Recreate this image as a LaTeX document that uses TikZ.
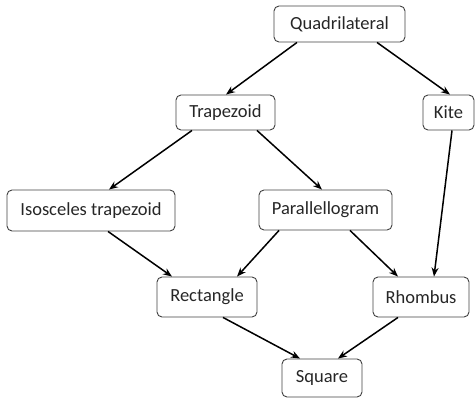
\documentclass[tikz,border=0pt]{standalone}
\usepackage{fontspec}
\setmainfont{Carlito}
\usetikzlibrary{arrows.meta}
\begin{document}
\begin{tikzpicture}[x=1pt,y=-1pt,
  shape box/.style={draw=black!75,line width=0.9pt,rounded corners=5pt,
    inner sep=0pt,align=center,text=black!85,
    font=\fontsize{18.5}{22}\selectfont},
  arr/.style={line width=1.5pt,-{Stealth[length=9pt,width=7pt]}}]
\useasboundingbox (0,0) rectangle (475,398);
% category boxes
\node[shape box,minimum width=131pt,minimum height=36pt] (q)  at (339.5,24)   {Quadrilateral};
\node[shape box,minimum width=51pt,minimum height=35pt]  (k)  at (448.5,112.5) {Kite};
\node[shape box,minimum width=99pt,minimum height=35pt]  (t)  at (225.5,112.5) {Trapezoid};
\node[shape box,minimum width=168pt,minimum height=41pt] (it) at (91,210.5)    {Isosceles trapezoid};
\node[shape box,minimum width=133pt,minimum height=40pt] (p)  at (325.5,210)   {Parallellogram};
\node[shape box,minimum width=100pt,minimum height=40pt] (r)  at (207,297)     {Rectangle};
\node[shape box,minimum width=96pt,minimum height=40pt]  (rh) at (421,297)     {Rhombus};
\node[shape box,minimum width=80pt,minimum height=38pt]  (s)  at (322,378)     {Square};
% inclusion arrows
\draw[arr] ([xshift=-42.5pt]q.south) -- ([xshift=0.5pt]t.north);
\draw[arr] ([xshift=37.5pt]q.south)  -- ([xshift=1.5pt]k.north);
\draw[arr] ([xshift=3.5pt]k.south)   -- ([xshift=13pt]rh.north);
\draw[arr] ([xshift=-33.5pt]t.south) -- ([xshift=18pt]it.north);
\draw[arr] ([xshift=31.5pt]t.south)  -- ([xshift=-3.5pt]p.north);
\draw[arr] ([xshift=17pt]it.south)   -- ([xshift=-35pt]r.north);
\draw[arr] ([xshift=-46.5pt]p.south) -- ([xshift=30pt]r.north);
\draw[arr] ([xshift=24.5pt]p.south)  -- ([xshift=-23pt]rh.north);
\draw[arr] ([xshift=16pt]r.south)    -- ([xshift=-22pt]s.north);
\draw[arr] ([xshift=-23pt]rh.south)  -- ([xshift=16pt]s.north);
\end{tikzpicture}
\end{document}
